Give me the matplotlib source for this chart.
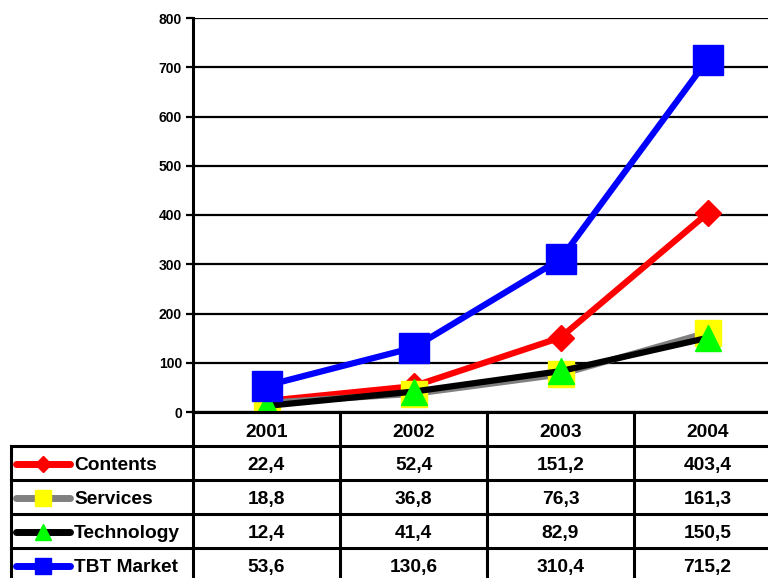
import matplotlib

matplotlib.use("Agg")
import matplotlib.pyplot as plt
import matplotlib.transforms as mtransforms
from matplotlib.lines import Line2D

plt.rcParams["font.family"] = ["Liberation Sans", "DejaVu Sans"]
plt.rcParams["font.weight"] = "bold"

years = ["2001", "2002", "2003", "2004"]
contents = [22.4, 52.4, 151.2, 403.4]
services = [18.8, 36.8, 76.3, 161.3]
technology = [12.4, 41.4, 82.9, 150.5]
tbt_market = [53.6, 130.6, 310.4, 715.2]
series_names = ["Contents", "Services", "Technology", "TBT Market"]
series_values = [contents, services, technology, tbt_market]
yticks = [0, 100, 200, 300, 400, 500, 600, 700, 800]

# style per series: line colour, marker, marker colour, marker size, legend marker size
styles = [
    ("#ff0000", "D", "#ff0000", 13.5, 8),
    ("#808080", "s", "#ffff00", 19, 11),
    ("#000000", "^", "#00ff00", 19, 12),
    ("#0000ff", "s", "#0000ff", 21.5, 12),
]
draw_order = [1, 2, 0, 3]

W, H = 768, 578
FS = 13.8
fig = plt.figure(figsize=(W / 100, H / 100), dpi=100)


def fy(py):
    return 1 - py / H


ax = fig.add_axes([193 / W, fy(412), 588 / W, (412 - 18) / H])
x = list(range(len(years)))
for i in draw_order:
    lc, mk, mc, ms, _ = styles[i]
    ax.plot(x, series_values[i], color=lc, lw=4.5, marker=mk, ms=ms,
            mfc=mc, mec=mc, solid_capstyle="butt", zorder=3 + i * 0.1)

ax.set_xlim(-0.5, len(years) - 0.5)
ax.set_ylim(0, 800)
ax.set_yticks(yticks)
ax.set_yticklabels([str(v) for v in yticks], fontsize=10, fontweight="bold")
ax.set_xticks([])
ax.grid(axis="y", color="black", lw=1.6)
ax.set_axisbelow(True)
for s in ["top", "right"]:
    ax.spines[s].set_visible(False)
ax.spines["left"].set_linewidth(2.2)
ax.spines["bottom"].set_linewidth(2.2)
ax.tick_params(axis="y", length=5, width=1.6, pad=3, direction="out")
ax.patch.set_visible(False)

# data table under the chart
tr = mtransforms.blended_transform_factory(ax.transData, fig.transFigure)
row_lines = [412, 446, 480, 514, 548, 582]
lw_tab = 2.2
cap_half = FS / 72 * 100 * 0.716 / 2  # half cap height in px

for j in range(len(years) + 1):
    fig.add_artist(Line2D([j - 0.5, j - 0.5], [fy(412), fy(582)], transform=tr,
                          color="black", lw=lw_tab))
for k, py in enumerate(row_lines):
    x0 = 11 / W if k > 0 else 193 / W
    fig.add_artist(Line2D([x0, 1.05], [fy(py), fy(py)], transform=fig.transFigure,
                          color="black", lw=lw_tab))
fig.add_artist(Line2D([11 / W, 11 / W], [fy(446), fy(582)], transform=fig.transFigure,
                      color="black", lw=lw_tab))

for j, yr in enumerate(years):
    fig.text(j, fy(430 + cap_half), yr, transform=tr, ha="center", va="baseline",
             fontsize=FS, fontweight="bold")

for r, (name, vals) in enumerate(zip(series_names, series_values)):
    cpy = (row_lines[r + 1] + row_lines[r + 2]) / 2 + 0.5
    cy = fy(cpy)
    by = fy(cpy + cap_half)
    lc, mk, mc, _, lms = styles[r]
    fig.add_artist(Line2D([16 / W, 70 / W], [cy, cy], transform=fig.transFigure,
                          color=lc, lw=5, solid_capstyle="round"))
    fig.add_artist(Line2D([43 / W], [cy], transform=fig.transFigure, marker=mk,
                          ms=lms, mfc=mc, mec=mc, lw=0))
    fig.text(74 / W, by, name, ha="left", va="baseline", fontsize=FS, fontweight="bold")
    for j, v in enumerate(vals):
        fig.text(j, by, f"{v:.1f}".replace(".", ","), transform=tr, ha="center",
                 va="baseline", fontsize=FS, fontweight="bold")

fig.savefig("out.png", dpi=100)
